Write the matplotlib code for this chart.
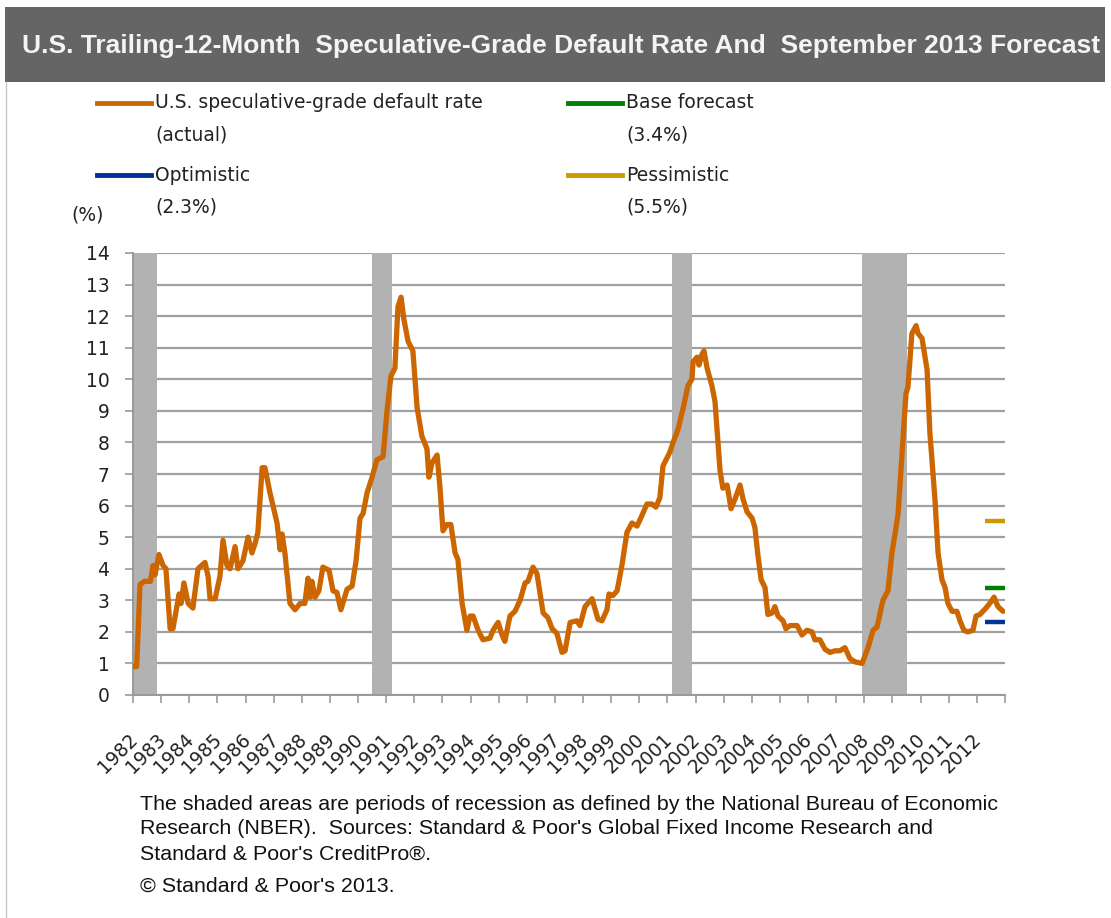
import matplotlib
matplotlib.use('Agg')
import matplotlib.pyplot as plt
from matplotlib import font_manager
from matplotlib.lines import Line2D
from matplotlib.patches import Rectangle
import matplotlib.transforms as mtransforms

# ---------------- data ----------------
base_year = 1982
rate_offsets = [
    0.00, 0.13, 0.25, 0.40, 0.62, 0.71, 0.78, 0.92, 1.07, 1.17, 1.32, 1.42, 1.64, 1.71, 1.81, 1.96,
    2.13, 2.31, 2.56, 2.67, 2.74, 2.92, 3.09, 3.20, 3.34, 3.45, 3.63, 3.73, 3.91, 4.09, 4.23, 4.34,
    4.44, 4.59, 4.69, 4.87, 5.12, 5.23, 5.30, 5.40, 5.58, 5.76, 5.94, 6.11, 6.22, 6.30, 6.36, 6.47,
    6.61, 6.75, 6.97, 7.11, 7.25, 7.39, 7.61, 7.79, 7.93, 8.07, 8.18, 8.32, 8.50, 8.67, 8.89, 9.03,
    9.17, 9.31, 9.42, 9.53, 9.63, 9.78, 9.95, 10.10, 10.27, 10.45, 10.52, 10.63, 10.81, 10.91, 11.02,
    11.16, 11.30, 11.45, 11.55, 11.70, 11.87, 11.98, 12.09, 12.27, 12.44, 12.69, 12.80, 12.98, 13.12,
    13.22, 13.40, 13.58, 13.76, 13.94, 14.04, 14.22, 14.36, 14.58, 14.75, 14.90, 15.07, 15.25, 15.36,
    15.54, 15.78, 15.89, 16.07, 16.32, 16.53, 16.67, 16.85, 16.92, 17.06, 17.21, 17.38, 17.56, 17.74,
    17.92, 18.10, 18.27, 18.45, 18.59, 18.73, 18.84, 19.09, 19.20, 19.37, 19.55, 19.73, 19.87, 19.91,
    20.05, 20.12, 20.23, 20.30, 20.41, 20.58, 20.69, 20.87, 20.97, 21.12, 21.26, 21.40, 21.58, 21.69,
    21.83, 22.01, 22.11, 22.22, 22.33, 22.47, 22.57, 22.72, 22.82, 22.93, 23.11, 23.21, 23.36, 23.61,
    23.78, 23.96, 24.14, 24.24, 24.42, 24.60, 24.78, 24.96, 25.13, 25.31, 25.49, 25.67, 25.92, 26.13,
    26.31, 26.45, 26.56, 26.66, 26.84, 26.98, 27.09, 27.20, 27.34, 27.48, 27.55, 27.69, 27.84, 27.91,
    28.05, 28.23, 28.33, 28.51, 28.62, 28.76, 28.87, 28.97, 29.12, 29.29, 29.40, 29.54, 29.68, 29.86,
    29.97, 30.11, 30.32, 30.50, 30.61, 30.75, 30.93]
rate_values = [
    0.90, 0.90, 3.50, 3.60, 3.60, 4.10, 3.80, 4.45, 4.10, 4.00, 2.10, 2.10, 3.20, 2.90, 3.55, 2.90,
    2.75, 4.00, 4.20, 3.75, 3.05, 3.05, 3.75, 4.90, 4.10, 4.00, 4.70, 4.00, 4.25, 5.00, 4.50, 4.80,
    5.15, 7.20, 7.20, 6.40, 5.45, 4.60, 5.10, 4.50, 2.90, 2.70, 2.90, 2.90, 3.70, 3.10, 3.60, 3.10,
    3.30, 4.05, 3.95, 3.30, 3.25, 2.70, 3.35, 3.45, 4.25, 5.60, 5.75, 6.40, 6.90, 7.45, 7.55, 9.00,
    10.10, 10.35, 12.30, 12.60, 11.90, 11.20, 10.90, 9.10, 8.20, 7.80, 6.90, 7.35, 7.60, 6.60, 5.20,
    5.40, 5.40, 4.50, 4.30, 2.90, 2.05, 2.50, 2.50, 2.05, 1.75, 1.80, 2.05, 2.30, 1.90,
    1.70, 2.50, 2.65, 3.00, 3.55, 3.60, 4.05, 3.85, 2.60, 2.45, 2.10, 1.95, 1.35, 1.40,
    2.30, 2.35, 2.20, 2.80, 3.05, 2.40, 2.35, 2.70, 3.20, 3.15, 3.30, 4.10, 5.15, 5.45,
    5.35, 5.70, 6.05, 6.05, 5.95, 6.25, 7.25, 7.70, 8.00, 8.40, 9.05, 9.80, 10.00, 10.55,
    10.70, 10.45, 10.80, 10.90, 10.35, 9.80, 9.30, 7.10, 6.55, 6.65, 5.90, 6.20, 6.65, 6.20,
    5.80, 5.60, 5.30, 4.40, 3.65, 3.40, 2.55, 2.60, 2.80, 2.50, 2.35, 2.10, 2.20, 2.20,
    1.90, 2.05, 2.00, 1.75, 1.75, 1.45, 1.35, 1.40, 1.40, 1.50, 1.15, 1.05, 1.00, 1.50,
    2.05, 2.15, 2.60, 3.00, 3.30, 4.50, 5.10, 5.75, 7.65, 9.55, 9.75, 11.45, 11.70, 11.45,
    11.30, 10.30, 8.30, 6.20, 4.50, 3.65, 3.40, 2.90, 2.65, 2.65, 2.35, 2.05, 2.00, 2.05,
    2.50, 2.55, 2.75, 2.95, 3.10, 2.80, 2.65]

recession_starts = [1982.00, 1990.50, 2001.17, 2007.92]
recession_ends = [1982.85, 1991.20, 2001.87, 2009.50]

forecast_names = ['Base forecast', 'Optimistic', 'Pessimistic']
forecast_values = [3.4, 2.3, 5.5]
forecast_colors = ['#008000', '#003399', '#CC9900']

year_labels = [str(y) for y in range(1982, 2013)]
y_ticks = list(range(0, 15))

LINE_COLOR = '#CC6600'

# ---------------- figure ----------------
W, H = 1111, 918
fig = plt.figure(figsize=(W / 100, H / 100), dpi=100)
renderer = fig.canvas.get_renderer()


def fx(px):
    return px / W


def fy(py):
    return 1 - py / H


def pick(names):
    for n in names:
        try:
            font_manager.findfont(font_manager.FontProperties(family=n), fallback_to_default=False)
            return n
        except Exception:
            pass
    return 'DejaVu Sans'


title_font = pick(['Liberation Sans Narrow', 'Liberation Sans'])
foot_font = pick(['Liberation Sans', 'DejaVu Sans'])


def fit_text(xp, yp, s, width_px, size0, **kw):
    t = fig.text(fx(xp), fy(yp), s, fontsize=size0, **kw)
    bb = t.get_window_extent(renderer)
    t.set_fontsize(size0 * width_px / bb.width)
    return t


# title bar
fig.add_artist(Rectangle((fx(5), fy(82)), 1100 / W, 75 / H, transform=fig.transFigure,
                         facecolor='#656565', edgecolor='none'))
fig.add_artist(Line2D([fx(5.5), fx(5.5)], [fy(82), fy(918)], color='#c8c8c8', lw=1,
                      transform=fig.transFigure))
fit_text(22, 46, 'U.S. Trailing-12-Month  Speculative-Grade Default Rate And  September 2013 Forecast',
         1076, 20, family=title_font, fontweight='bold', color='#f4f4f4', va='center', ha='left')

# axes
ax = fig.add_axes([fx(133), fy(695), (1005 - 133) / W, (695 - 253) / H])
ax.set_xlim(1982, 2013)
ax.set_ylim(0, 14)

ax.set_yticks(y_ticks)
ax.yaxis.grid(True, color='#a0a0a0', lw=1.6, zorder=0)
ax.set_axisbelow(True)

for s, e in zip(recession_starts, recession_ends):
    ax.axvspan(s, e, facecolor='#b2b2b2', edgecolor='none', zorder=1)

years = [base_year + o for o in rate_offsets]
ax.plot(years, rate_values, color=LINE_COLOR, lw=3.8, solid_joinstyle='round',
        solid_capstyle='round', zorder=3)

for v, c in zip(forecast_values, forecast_colors):
    ax.hlines(v, 2012.3, 2013.0, colors=c, lw=3.2, zorder=3)

for sp in ['top', 'right']:
    ax.spines[sp].set_visible(False)
for sp in ['left', 'bottom']:
    ax.spines[sp].set_color('#999999')
    ax.spines[sp].set_linewidth(1.4)

ax.tick_params(axis='y', length=6, width=1.2, color='#999999', pad=11, labelsize=13.5,
               labelcolor='#222222')
ax.set_xticks(list(range(1982, 2014)))
ax.set_xticklabels(year_labels + [''])
ax.tick_params(axis='x', length=6, width=1.2, color='#999999', pad=19, labelsize=13.5,
               labelcolor='#222222')
offset = mtransforms.ScaledTranslation(-0.05, 0, fig.dpi_scale_trans)
for lab in ax.get_xticklabels():
    lab.set_rotation(45)
    lab.set_ha('right')
    lab.set_va('top')
    lab.set_rotation_mode('anchor')
    lab.set_transform(lab.get_transform() + offset)

fig.text(fx(88), fy(215), '(%)', fontsize=13.5, color='#222222', ha='center', va='center')

# legend (manual)
leg_items = [
    (97, 103, LINE_COLOR, 'U.S. speculative-grade default rate', '(actual)'),
    (568, 103, forecast_colors[0], forecast_names[0], '(3.4%)'),
    (97, 175, forecast_colors[1], forecast_names[1], '(2.3%)'),
    (568, 175, forecast_colors[2], forecast_names[2], '(5.5%)'),
]
for x0, y0, c, l1, l2 in leg_items:
    fig.add_artist(Line2D([fx(x0), fx(x0 + 54)], [fy(y0), fy(y0)], color=c, lw=3.5,
                          transform=fig.transFigure))
    fig.text(fx(x0 + 58), fy(y0), l1, fontsize=13.5, color='#222222', va='center', ha='left')
    fig.text(fx(x0 + 58), fy(y0 + 32), l2, fontsize=13.5, color='#222222', va='center', ha='left')

# footnote
fit_text(140, 804, 'The shaded areas are periods of recession as defined by the National Bureau of Economic',
         855, 13, family=foot_font, color='#111111', va='center', ha='left')
fs = fig.texts[-1].get_fontsize()
fig.text(fx(140), fy(829), "Research (NBER).  Sources: Standard & Poor's Global Fixed Income Research and",
         fontsize=fs, family=foot_font, color='#111111', va='center', ha='left')
fig.text(fx(140), fy(854), "Standard & Poor's CreditPro\u00ae.", fontsize=fs, family=foot_font,
         color='#111111', va='center', ha='left')
fig.text(fx(140), fy(886), "\u00a9 Standard & Poor's 2013.", fontsize=fs, family=foot_font,
         color='#111111', va='center', ha='left')

fig.savefig('out.png', dpi=100)
